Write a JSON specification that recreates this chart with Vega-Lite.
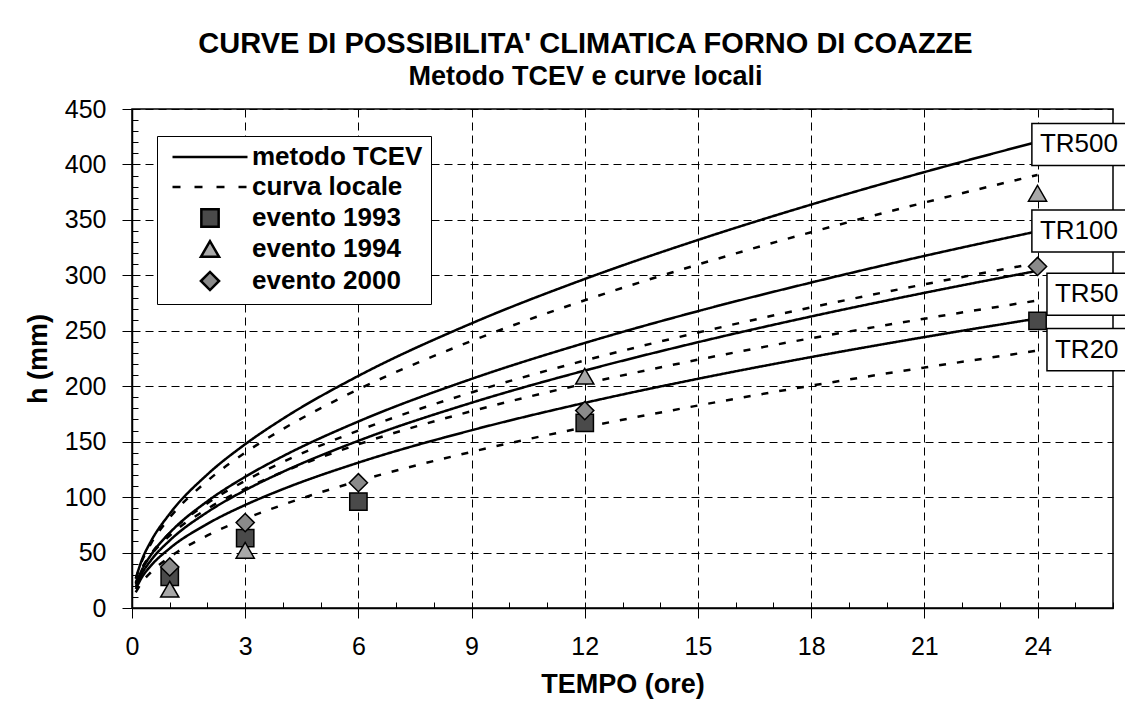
{
  "$schema": "https://vega.github.io/schema/vega-lite/v6.json",
  "width": 981,
  "height": 499,
  "autosize": {"type": "none"},
  "padding": {"left": 132, "top": 109, "right": 12, "bottom": 103},
  "background": "white",
  "config": {
    "font": "Liberation Sans",
    "view": {"stroke": "black", "strokeWidth": 1.5}
  },
  "title": {
    "text": "CURVE DI POSSIBILITA' CLIMATICA FORNO DI COAZZE",
    "subtitle": "Metodo TCEV e curve locali",
    "anchor": "middle",
    "dx": -37,
    "offset": 7,
    "font": "Liberation Sans",
    "fontSize": 29,
    "fontWeight": "bold",
    "color": "black",
    "subtitleFont": "Liberation Sans",
    "subtitleFontSize": 27,
    "subtitleFontWeight": "bold",
    "subtitleColor": "black",
    "subtitlePadding": 5
  },
  "datasets": {
    "curves": [
      {"curve": "TR500", "tipo": "metodo TCEV", "t": 0.1, "h": 26.7},
      {"curve": "TR500", "tipo": "metodo TCEV", "t": 0.25, "h": 42.3},
      {"curve": "TR500", "tipo": "metodo TCEV", "t": 0.5, "h": 60.0},
      {"curve": "TR500", "tipo": "metodo TCEV", "t": 1, "h": 85.0},
      {"curve": "TR500", "tipo": "metodo TCEV", "t": 2, "h": 120.5},
      {"curve": "TR500", "tipo": "metodo TCEV", "t": 3, "h": 147.7},
      {"curve": "TR500", "tipo": "metodo TCEV", "t": 4, "h": 170.7},
      {"curve": "TR500", "tipo": "metodo TCEV", "t": 6, "h": 209.3},
      {"curve": "TR500", "tipo": "metodo TCEV", "t": 9, "h": 256.7},
      {"curve": "TR500", "tipo": "metodo TCEV", "t": 12, "h": 296.7},
      {"curve": "TR500", "tipo": "metodo TCEV", "t": 15, "h": 331.9},
      {"curve": "TR500", "tipo": "metodo TCEV", "t": 18, "h": 363.8},
      {"curve": "TR500", "tipo": "metodo TCEV", "t": 21, "h": 393.1},
      {"curve": "TR500", "tipo": "metodo TCEV", "t": 24, "h": 420.4},
      {"curve": "TR500 locale", "tipo": "curva locale", "t": 0.1, "h": 26.2},
      {"curve": "TR500 locale", "tipo": "curva locale", "t": 0.25, "h": 41.2},
      {"curve": "TR500 locale", "tipo": "curva locale", "t": 0.5, "h": 57.9},
      {"curve": "TR500 locale", "tipo": "curva locale", "t": 1, "h": 81.5},
      {"curve": "TR500 locale", "tipo": "curva locale", "t": 2, "h": 114.7},
      {"curve": "TR500 locale", "tipo": "curva locale", "t": 3, "h": 140.1},
      {"curve": "TR500 locale", "tipo": "curva locale", "t": 4, "h": 161.4},
      {"curve": "TR500 locale", "tipo": "curva locale", "t": 6, "h": 197.2},
      {"curve": "TR500 locale", "tipo": "curva locale", "t": 9, "h": 240.8},
      {"curve": "TR500 locale", "tipo": "curva locale", "t": 12, "h": 277.5},
      {"curve": "TR500 locale", "tipo": "curva locale", "t": 15, "h": 309.7},
      {"curve": "TR500 locale", "tipo": "curva locale", "t": 18, "h": 338.9},
      {"curve": "TR500 locale", "tipo": "curva locale", "t": 21, "h": 365.6},
      {"curve": "TR500 locale", "tipo": "curva locale", "t": 24, "h": 390.5},
      {"curve": "TR100", "tipo": "metodo TCEV", "t": 0.1, "h": 21.1},
      {"curve": "TR100", "tipo": "metodo TCEV", "t": 0.25, "h": 33.6},
      {"curve": "TR100", "tipo": "metodo TCEV", "t": 0.5, "h": 47.7},
      {"curve": "TR100", "tipo": "metodo TCEV", "t": 1, "h": 67.8},
      {"curve": "TR100", "tipo": "metodo TCEV", "t": 2, "h": 96.3},
      {"curve": "TR100", "tipo": "metodo TCEV", "t": 3, "h": 118.3},
      {"curve": "TR100", "tipo": "metodo TCEV", "t": 4, "h": 136.9},
      {"curve": "TR100", "tipo": "metodo TCEV", "t": 6, "h": 168.2},
      {"curve": "TR100", "tipo": "metodo TCEV", "t": 9, "h": 206.6},
      {"curve": "TR100", "tipo": "metodo TCEV", "t": 12, "h": 239.0},
      {"curve": "TR100", "tipo": "metodo TCEV", "t": 15, "h": 267.7},
      {"curve": "TR100", "tipo": "metodo TCEV", "t": 18, "h": 293.5},
      {"curve": "TR100", "tipo": "metodo TCEV", "t": 21, "h": 317.5},
      {"curve": "TR100", "tipo": "metodo TCEV", "t": 24, "h": 339.7},
      {"curve": "TR100 locale", "tipo": "curva locale", "t": 0.1, "h": 22.4},
      {"curve": "TR100 locale", "tipo": "curva locale", "t": 0.25, "h": 34.8},
      {"curve": "TR100 locale", "tipo": "curva locale", "t": 0.5, "h": 48.5},
      {"curve": "TR100 locale", "tipo": "curva locale", "t": 1, "h": 67.7},
      {"curve": "TR100 locale", "tipo": "curva locale", "t": 2, "h": 94.4},
      {"curve": "TR100 locale", "tipo": "curva locale", "t": 3, "h": 114.7},
      {"curve": "TR100 locale", "tipo": "curva locale", "t": 4, "h": 131.7},
      {"curve": "TR100 locale", "tipo": "curva locale", "t": 6, "h": 160.0},
      {"curve": "TR100 locale", "tipo": "curva locale", "t": 9, "h": 194.4},
      {"curve": "TR100 locale", "tipo": "curva locale", "t": 12, "h": 223.2},
      {"curve": "TR100 locale", "tipo": "curva locale", "t": 15, "h": 248.4},
      {"curve": "TR100 locale", "tipo": "curva locale", "t": 18, "h": 271.1},
      {"curve": "TR100 locale", "tipo": "curva locale", "t": 21, "h": 291.9},
      {"curve": "TR100 locale", "tipo": "curva locale", "t": 24, "h": 311.2},
      {"curve": "TR50", "tipo": "metodo TCEV", "t": 0.1, "h": 19.0},
      {"curve": "TR50", "tipo": "metodo TCEV", "t": 0.25, "h": 30.2},
      {"curve": "TR50", "tipo": "metodo TCEV", "t": 0.5, "h": 42.9},
      {"curve": "TR50", "tipo": "metodo TCEV", "t": 1, "h": 60.9},
      {"curve": "TR50", "tipo": "metodo TCEV", "t": 2, "h": 86.5},
      {"curve": "TR50", "tipo": "metodo TCEV", "t": 3, "h": 106.2},
      {"curve": "TR50", "tipo": "metodo TCEV", "t": 4, "h": 122.8},
      {"curve": "TR50", "tipo": "metodo TCEV", "t": 6, "h": 150.8},
      {"curve": "TR50", "tipo": "metodo TCEV", "t": 9, "h": 185.1},
      {"curve": "TR50", "tipo": "metodo TCEV", "t": 12, "h": 214.1},
      {"curve": "TR50", "tipo": "metodo TCEV", "t": 15, "h": 239.7},
      {"curve": "TR50", "tipo": "metodo TCEV", "t": 18, "h": 262.9},
      {"curve": "TR50", "tipo": "metodo TCEV", "t": 21, "h": 284.2},
      {"curve": "TR50", "tipo": "metodo TCEV", "t": 24, "h": 304.1},
      {"curve": "TR50 locale", "tipo": "curva locale", "t": 0.1, "h": 22.9},
      {"curve": "TR50 locale", "tipo": "curva locale", "t": 0.25, "h": 34.8},
      {"curve": "TR50 locale", "tipo": "curva locale", "t": 0.5, "h": 47.6},
      {"curve": "TR50 locale", "tipo": "curva locale", "t": 1, "h": 65.3},
      {"curve": "TR50 locale", "tipo": "curva locale", "t": 2, "h": 89.5},
      {"curve": "TR50 locale", "tipo": "curva locale", "t": 3, "h": 107.6},
      {"curve": "TR50 locale", "tipo": "curva locale", "t": 4, "h": 122.7},
      {"curve": "TR50 locale", "tipo": "curva locale", "t": 6, "h": 147.6},
      {"curve": "TR50 locale", "tipo": "curva locale", "t": 9, "h": 177.5},
      {"curve": "TR50 locale", "tipo": "curva locale", "t": 12, "h": 202.3},
      {"curve": "TR50 locale", "tipo": "curva locale", "t": 15, "h": 223.9},
      {"curve": "TR50 locale", "tipo": "curva locale", "t": 18, "h": 243.3},
      {"curve": "TR50 locale", "tipo": "curva locale", "t": 21, "h": 260.9},
      {"curve": "TR50 locale", "tipo": "curva locale", "t": 24, "h": 277.3},
      {"curve": "TR20", "tipo": "metodo TCEV", "t": 0.1, "h": 17.1},
      {"curve": "TR20", "tipo": "metodo TCEV", "t": 0.25, "h": 27.0},
      {"curve": "TR20", "tipo": "metodo TCEV", "t": 0.5, "h": 38.1},
      {"curve": "TR20", "tipo": "metodo TCEV", "t": 1, "h": 53.8},
      {"curve": "TR20", "tipo": "metodo TCEV", "t": 2, "h": 75.9},
      {"curve": "TR20", "tipo": "metodo TCEV", "t": 3, "h": 92.9},
      {"curve": "TR20", "tipo": "metodo TCEV", "t": 4, "h": 107.2},
      {"curve": "TR20", "tipo": "metodo TCEV", "t": 6, "h": 131.1},
      {"curve": "TR20", "tipo": "metodo TCEV", "t": 9, "h": 160.3},
      {"curve": "TR20", "tipo": "metodo TCEV", "t": 12, "h": 185.0},
      {"curve": "TR20", "tipo": "metodo TCEV", "t": 15, "h": 206.7},
      {"curve": "TR20", "tipo": "metodo TCEV", "t": 18, "h": 226.3},
      {"curve": "TR20", "tipo": "metodo TCEV", "t": 21, "h": 244.3},
      {"curve": "TR20", "tipo": "metodo TCEV", "t": 24, "h": 261.1},
      {"curve": "TR20 locale", "tipo": "curva locale", "t": 0.1, "h": 14.2},
      {"curve": "TR20 locale", "tipo": "curva locale", "t": 0.25, "h": 22.6},
      {"curve": "TR20 locale", "tipo": "curva locale", "t": 0.5, "h": 32.2},
      {"curve": "TR20 locale", "tipo": "curva locale", "t": 1, "h": 45.9},
      {"curve": "TR20 locale", "tipo": "curva locale", "t": 2, "h": 65.4},
      {"curve": "TR20 locale", "tipo": "curva locale", "t": 3, "h": 80.4},
      {"curve": "TR20 locale", "tipo": "curva locale", "t": 4, "h": 93.1},
      {"curve": "TR20 locale", "tipo": "curva locale", "t": 6, "h": 114.5},
      {"curve": "TR20 locale", "tipo": "curva locale", "t": 9, "h": 140.8},
      {"curve": "TR20 locale", "tipo": "curva locale", "t": 12, "h": 163.0},
      {"curve": "TR20 locale", "tipo": "curva locale", "t": 15, "h": 182.6},
      {"curve": "TR20 locale", "tipo": "curva locale", "t": 18, "h": 200.5},
      {"curve": "TR20 locale", "tipo": "curva locale", "t": 21, "h": 216.8},
      {"curve": "TR20 locale", "tipo": "curva locale", "t": 24, "h": 232.1}
    ],
    "events": [
      {"serie": "evento 1993", "t": 1, "h": 28},
      {"serie": "evento 1993", "t": 3, "h": 63},
      {"serie": "evento 1993", "t": 6, "h": 96},
      {"serie": "evento 1993", "t": 12, "h": 167},
      {"serie": "evento 1993", "t": 24, "h": 259},
      {"serie": "evento 1994", "t": 1, "h": 17},
      {"serie": "evento 1994", "t": 3, "h": 52},
      {"serie": "evento 1994", "t": 12, "h": 209},
      {"serie": "evento 1994", "t": 24, "h": 374},
      {"serie": "evento 2000", "t": 1, "h": 37},
      {"serie": "evento 2000", "t": 3, "h": 77},
      {"serie": "evento 2000", "t": 6, "h": 113},
      {"serie": "evento 2000", "t": 12, "h": 178},
      {"serie": "evento 2000", "t": 24, "h": 308}
    ],
    "labels": [
      {"label": "TR500", "t": 23.85, "h": 418},
      {"label": "TR100", "t": 23.85, "h": 340},
      {"label": "TR50", "t": 24.25, "h": 283},
      {"label": "TR20", "t": 24.25, "h": 233}
    ]
  },
  "resolve": {"axis": {"x": "independent", "y": "independent"}},
  "layer": [
    {
      "data": {"name": "curves"},
      "mark": {"type": "line", "interpolate": "monotone", "color": "black", "strokeWidth": 2.5},
      "encoding": {
        "x": {
          "field": "t", "type": "quantitative",
          "scale": {"domain": [0, 26], "nice": false, "zero": false},
          "axis": {
            "orient": "bottom",
            "values": [0,1,2,3,4,5,6,7,8,9,10,11,12,13,14,15,16,17,18,19,20,21,22,23,24,25,26],
            "tickSize": -6, "tickColor": "black", "tickWidth": 1,
            "labels": false, "domain": false, "grid": false, "title": null
          }
        },
        "y": {
          "field": "h", "type": "quantitative",
          "scale": {"domain": [0, 450], "nice": false, "zero": false},
          "axis": {
            "orient": "left",
            "values": [0,10,20,30,40,50,60,70,80,90,100,110,120,130,140,150,160,170,180,190,200,210,220,230,240,250,260,270,280,290,300,310,320,330,340,350,360,370,380,390,400,410,420,430,440,450],
            "tickSize": -6, "tickColor": "black", "tickWidth": 1,
            "labels": false, "domain": false, "grid": false, "title": null
          }
        },
        "detail": {"field": "curve"},
        "strokeDash": {
          "field": "tipo", "type": "nominal",
          "scale": {"domain": ["metodo TCEV", "curva locale"], "range": [[1, 0], [7, 11]]},
          "legend": null
        }
      }
    },
    {
      "data": {"name": "events"},
      "mark": {"type": "point", "filled": true, "opacity": 1, "stroke": "black", "strokeWidth": 1.5},
      "encoding": {
        "x": {
          "field": "t", "type": "quantitative",
          "axis": {
            "orient": "bottom",
            "values": [0,3,6,9,12,15,18,21,24],
            "tickSize": 10, "tickColor": "black", "tickWidth": 1,
            "domainColor": "black", "domainWidth": 1.5,
            "grid": true, "gridColor": "black", "gridDash": [8, 5], "gridOpacity": 1, "gridWidth": 1,
            "labelFont": "Liberation Sans", "labelFontSize": 25, "labelColor": "black", "labelPadding": 16, "labelFlush": false,
            "title": "TEMPO (ore)", "titleFont": "Liberation Sans", "titleFontSize": 27, "titleFontWeight": "bold", "titleColor": "black", "titlePadding": 12
          }
        },
        "y": {
          "field": "h", "type": "quantitative",
          "axis": {
            "orient": "left",
            "values": [0,50,100,150,200,250,300,350,400,450],
            "tickSize": 10, "tickColor": "black", "tickWidth": 1,
            "domainColor": "black", "domainWidth": 1.5,
            "grid": true, "gridColor": "black", "gridDash": [8, 5], "gridOpacity": 1, "gridWidth": 1,
            "labelFont": "Liberation Sans", "labelFontSize": 25, "labelColor": "black", "labelPadding": 16, "labelFlush": false,
            "title": "h (mm)", "titleFont": "Liberation Sans", "titleFontSize": 27, "titleFontWeight": "bold", "titleColor": "black", "titlePadding": 12
          }
        },
        "shape": {
          "field": "serie", "type": "nominal",
          "scale": {
            "domain": ["metodo TCEV", "curva locale", "evento 1993", "evento 1994", "evento 2000"],
            "range": ["M-3.75,0H3.75", "M-3.75,0H-2.95M-1.55,0H-0.75M0.65,0H1.45M2.85,0H3.65", "square", "triangle-up", "diamond"]
          },
          "legend": {
            "title": null,
            "orient": "none",
            "legendX": 25,
            "legendY": 27,
            "direction": "vertical",
            "strokeColor": "black",
            "fillColor": "white",
            "padding": 8,
            "rowPadding": 4,
            "symbolOffset": 32,
            "labelFont": "Liberation Sans",
            "labelFontSize": 26,
            "labelFontWeight": "bold",
            "labelColor": "black",
            "labelOffset": 29,
            "labelLimit": 400,
            "symbolStrokeColor": "black",
            "symbolStrokeWidth": 2.5
          }
        },
        "fill": {
          "field": "serie", "type": "nominal",
          "scale": {
            "domain": ["metodo TCEV", "curva locale", "evento 1993", "evento 1994", "evento 2000"],
            "range": ["black", "black", "#4a4a4a", "#a8a8a8", "#8a8a8a"]
          }
        },
        "size": {
          "field": "serie", "type": "nominal",
          "scale": {
            "type": "ordinal",
            "domain": ["metodo TCEV", "curva locale", "evento 1993", "evento 1994", "evento 2000"],
            "range": [400, 400, 300, 330, 330]
          }
        }
      }
    },
    {
      "data": {"name": "labels"},
      "mark": {"type": "point", "shape": "M0,-0.46H2.3V0.46H0Z", "size": 8354, "filled": true, "fill": "white", "stroke": "black", "strokeWidth": 1.5, "opacity": 1},
      "encoding": {
        "x": {"field": "t", "type": "quantitative", "axis": null},
        "y": {"field": "h", "type": "quantitative", "axis": null}
      }
    },
    {
      "data": {"name": "labels"},
      "mark": {"type": "text", "align": "left", "baseline": "middle", "dx": 8, "font": "Liberation Sans", "fontSize": 26, "color": "black"},
      "encoding": {
        "x": {"field": "t", "type": "quantitative", "axis": null},
        "y": {"field": "h", "type": "quantitative", "axis": null},
        "text": {"field": "label"}
      }
    }
  ]
}
